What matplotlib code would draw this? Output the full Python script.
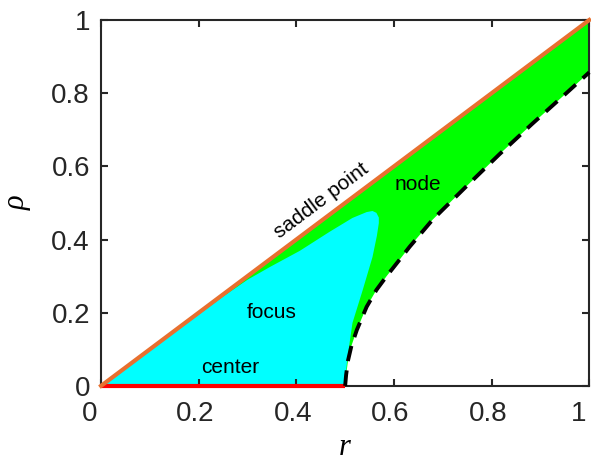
import matplotlib
matplotlib.use('Agg')
import matplotlib.pyplot as plt
import matplotlib.transforms as mtrans

plt.rcParams['font.family'] = ['Liberation Sans', 'DejaVu Sans']

# saddle point line and center segment
saddle_r = [0.0, 1.0]
saddle_rho = [0.0, 1.0]
center_r = [0.0, 0.5]
center_rho = [0.0, 0.0]

# dashed boundary of the node region
bound_r = [0.5, 0.502, 0.506, 0.513, 0.524, 0.544, 0.564, 0.585, 0.611, 0.632, 0.679,
           0.748, 0.816, 0.883, 0.953, 1.0]
bound_rho = [0.0, 0.030, 0.070, 0.110, 0.153, 0.216, 0.262, 0.300, 0.344, 0.380, 0.454,
             0.545, 0.633, 0.716, 0.800, 0.857]

# edge of the focus region (from origin, round the tip, back to r=0.5)
focus_r = [0.0, 0.2, 0.25, 0.3, 0.346, 0.407, 0.468, 0.515, 0.544, 0.556, 0.564,
           0.569, 0.569, 0.565, 0.556, 0.536, 0.515, 0.505, 0.501, 0.5]
focus_rho = [0.0, 0.195, 0.244, 0.29, 0.325, 0.369, 0.421, 0.459, 0.475, 0.478, 0.473,
             0.46, 0.445, 0.41, 0.352, 0.262, 0.172, 0.079, 0.030, 0.0]

ticks = [0, 0.2, 0.4, 0.6, 0.8, 1]
tick_labels = ['0', '0.2', '0.4', '0.6', '0.8', '1']

fig = plt.figure(figsize=(5.91, 4.66), dpi=100)
ax = fig.add_axes([0.171, 0.172, 0.826, 0.785])

# node region: between saddle line and dashed boundary
node_r = saddle_r + bound_r[::-1]
node_rho = saddle_rho + bound_rho[::-1]
ax.fill(node_r, node_rho, color='#00ff00', lw=0)
ax.fill(focus_r, focus_rho, color='#00ffff', lw=0)

ax.plot(center_r, center_rho, color='#ff0000', lw=3, solid_capstyle='butt', clip_on=False, zorder=4)
ax.plot(saddle_r, saddle_rho, color='#e8702f', lw=3, clip_on=False, zorder=5)
ax.plot(bound_r, bound_rho, color='k', lw=2.8, dashes=(4, 2.4), clip_on=False, zorder=5)

ax.text(0.452, 0.505, 'saddle point', rotation=36.8, ha='center', va='center', fontsize=15)
ax.text(0.648, 0.55, 'node', ha='center', va='center', fontsize=15)
ax.text(0.35, 0.2, 'focus', ha='center', va='center', fontsize=15)
ax.text(0.264, 0.05, 'center', ha='center', va='center', fontsize=15)

ax.set_xlim(0, 1)
ax.set_ylim(0, 1)
ax.set_xticks(ticks)
ax.set_xticklabels(tick_labels)
ax.set_yticks(ticks)
ax.set_yticklabels(tick_labels)
ax.tick_params(direction='in', length=5, width=1.5, colors='#262626', labelsize=20,
               top=True, right=True, pad=8)
ax.tick_params(axis='x', pad=11)
for s in ax.spines.values():
    s.set_linewidth(1.5)
    s.set_color('#262626')

# nudge x tick labels left like the original
for i, lab in enumerate(ax.get_xticklabels()):
    dx = -11 if i in (0, len(ticks) - 1) else -3.5
    lab.set_transform(lab.get_transform() + mtrans.ScaledTranslation(dx / 100, 0, fig.dpi_scale_trans))

ax.set_xlabel('r', family='Liberation Serif', style='italic', fontsize=22, labelpad=4)
ax.set_ylabel('ρ', family='Liberation Serif', style='italic', fontsize=22, labelpad=14)

fig.savefig('out.png', dpi=100)
